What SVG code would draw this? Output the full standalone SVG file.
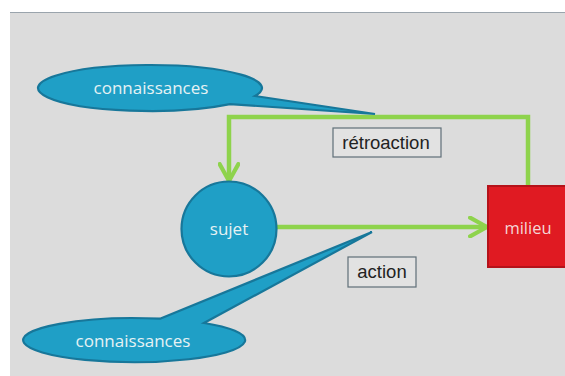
<svg xmlns="http://www.w3.org/2000/svg" width="565" height="376" viewBox="0 0 565 376">
<defs>
<style>
.bub{fill:#1f9fc6;stroke:#17779a;stroke-width:2.2}
.btxt{font-family:"Open Sans","DejaVu Sans",sans-serif;fill:#e6f2f4;text-anchor:middle}
.lbl{fill:#e2e2e2;stroke:#5f6f78;stroke-width:1.2}
.ltxt{font-family:"Liberation Sans",Arial,sans-serif;font-size:18.5px;fill:#222;text-anchor:middle}
.conn{fill:none;stroke:#8ed34c;stroke-width:4.5}
</style>
<marker id="arr" viewBox="0 0 12 12" refX="10" refY="6" markerWidth="5" markerHeight="5" markerUnits="strokeWidth" orient="auto">
<path d="M1,1 L10,6 L1,11" fill="none" stroke="#8ed34c" stroke-width="2.2" stroke-linecap="round" stroke-linejoin="round"/>
</marker>
</defs>
<rect x="0" y="0" width="565" height="376" fill="#ffffff"/>
<rect x="10" y="12" width="555" height="364" fill="#dcdcdc"/>
<line x1="10" y1="12.5" x2="565" y2="12.5" stroke="#9aa4ac" stroke-width="1"/>

<g id="connectors">
<path class="conn" d="M528,188 V117 H229 V181" marker-end="url(#arr)"/>
<path class="conn" d="M276,227 H487" marker-end="url(#arr)"/>
</g>

<g id="connaissances-top">
<path class="bub" d="M255,96 L375,114 L230,104.1 A112,23 0 1 1 255,96 Z"/>
<text class="btxt" x="151" y="94" font-size="17">connaissances</text>
</g>

<g id="sujet">
<circle class="bub" cx="229" cy="229" r="47.5"/>
<text class="btxt" x="229" y="235" font-size="17">sujet</text>
</g>

<g id="milieu">
<rect x="488" y="186" width="80" height="81" fill="#e01a22" stroke="#b5121a" stroke-width="2"/>
<text x="528" y="234" font-family="Open Sans,DejaVu Sans,sans-serif" font-size="16.5" fill="#f4d6d6" text-anchor="middle">milieu</text>
</g>

<g id="connaissances-bottom">
<path class="bub" d="M160,318.7 L372,232 L204,323 A111,22 0 1 1 160,318.7 Z"/>
<text class="btxt" x="133" y="347" font-size="17">connaissances</text>
</g>

<g id="retroaction">
<rect class="lbl" x="333" y="128" width="108" height="29"/>
<text class="ltxt" x="386" y="149">rétroaction</text>
</g>

<g id="action">
<rect class="lbl" x="348" y="257" width="68" height="30"/>
<text class="ltxt" x="382" y="278">action</text>
</g>
</svg>
